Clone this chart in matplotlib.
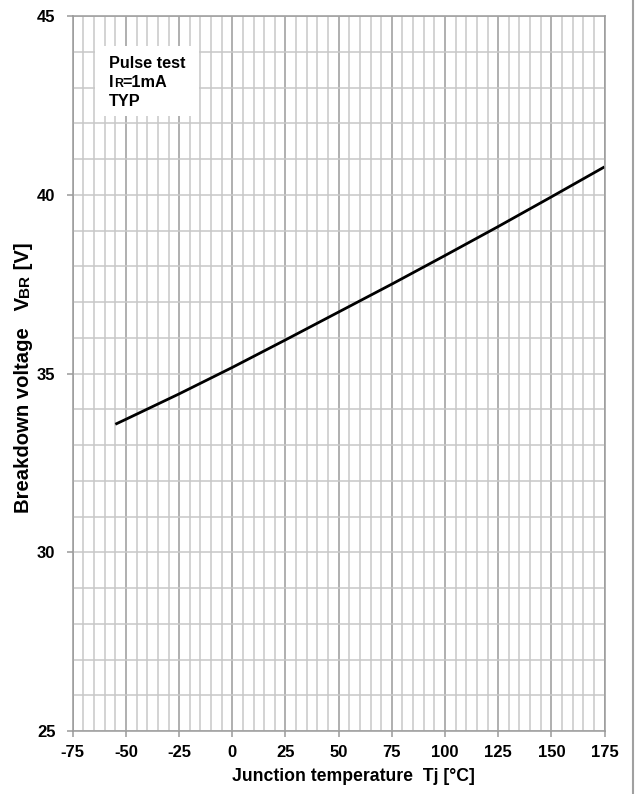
import numpy as np
import matplotlib
matplotlib.use("Agg")
import matplotlib.pyplot as plt
from matplotlib.lines import Line2D
from matplotlib.patches import Rectangle

# curve
tj = [-55, -50, -25, 0, 25, 50, 75, 100, 125, 150, 175]
vbr = [33.58, 33.72, 34.43, 35.17, 35.94, 36.72, 37.50, 38.30, 39.11, 39.94, 40.78]

x_ticks = [-75, -50, -25, 0, 25, 50, 75, 100, 125, 150, 175]
y_ticks = [25, 30, 35, 40, 45]
note_lines = ["Pulse test", "TYP"]

plt.rcParams['font.family'] = ['Liberation Sans', 'DejaVu Sans']
plt.rcParams['font.weight'] = 'bold'
plt.rcParams['axes.unicode_minus'] = False

W, H = 637, 794
fig = plt.figure(figsize=(W / 100, H / 100), dpi=100)
ax = fig.add_axes([72.8 / W, 1 - 731 / H, (604.5 - 72.8) / W, (731 - 16) / H])

ax.set_xlim(-75, 175)
ax.set_ylim(25, 45)
ax.set_xticks(x_ticks)
ax.set_yticks(y_ticks)
ax.set_xticks(np.arange(-75, 176, 5), minor=True)
ax.set_yticks(np.arange(25, 46, 1), minor=True)

ax.grid(which='minor', color='#c8c8c8', lw=1.1)
ax.grid(which='major', axis='x', color='#9a9a9a', lw=1.1)
ax.grid(which='major', axis='y', color='#c8c8c8', lw=1.1)
ax.set_axisbelow(True)
for s in ax.spines.values():
    s.set_color('#9a9a9a')
    s.set_linewidth(1.1)
ax.tick_params(which='minor', length=0)
ax.tick_params(which='major', length=4, width=1.1, color='#9a9a9a', labelsize=12)
ax.tick_params(axis='x', pad=6)
ax.tick_params(axis='y', pad=8.5)

ax.plot(tj, vbr, color='black', lw=2.0, solid_capstyle='butt')

# white note box
ax.add_patch(Rectangle((0.042, 0.860), 0.195, 0.0985, transform=ax.transAxes,
                       facecolor='white', edgecolor='none', zorder=1.5))

fig.canvas.draw()
renderer = fig.canvas.get_renderer()


def put_runs(x, y, runs, rotation=0):
    # place text pieces of different sizes one after the other on a common baseline
    for s, size in runs:
        t = fig.text(x, y, s, fontsize=size, fontweight='bold', ha='left', va='baseline',
                     rotation=rotation, rotation_mode='anchor')
        bb = t.get_window_extent(renderer)
        if rotation:
            y += bb.height / H
        else:
            x += bb.width / W


fs = 11.7
put_runs(109.3 / W, 1 - 68.3 / H, [(note_lines[0], fs)])
put_runs(109.3 / W, 1 - 87.3 / H, [("I", fs), ("R", 8.8), ("=1mA", fs)])
put_runs(109.3 / W, 1 - 105.7 / H, [(note_lines[1], fs)])

# y label with small "BR"
put_runs(29 / W, 1 - 513 / H,
         [("Breakdown voltage   V", 14.6), ("BR", 11), (" [V]", 14.6)], rotation=90)

put_runs(232 / W, 1 - 781 / H, [("Junction temperature  Tj [°C]", 12.7)])

# grey frame line on the right edge
fig.add_artist(Line2D([633 / W, 633 / W], [0, 1], transform=fig.transFigure,
                      color='#a0a0a0', lw=1.5))

fig.savefig('out.png', dpi=100)
